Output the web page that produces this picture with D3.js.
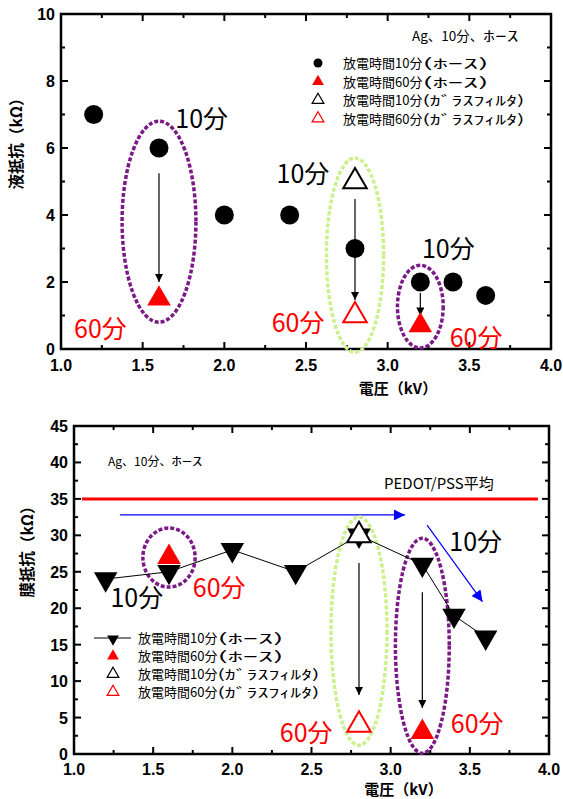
<!DOCTYPE html>
<html>
  <head>
    <meta http-equiv="Content-Type" content="text/html;charset=utf-8"/>
    <script src="https://d3js.org/d3.v7.min.js"></script>
    <style type="text/css">
    body { margin: 0; background: #fff; }
    .tick-label { font-family: "Liberation Sans", Arial, sans-serif; font-weight: bold; font-size: 16px; }
    .jp { font-family: "Noto Sans CJK JP", sans-serif; }
    </style>
  </head>
  <body>
    <script type="text/javascript">
    // ---- data ----
    var voltage = [1.2, 1.6, 2.0, 2.4, 2.8, 3.2, 3.4, 3.6];
    var liquidHose10 = [7, 6, 4, 4, 3, 2, 2, 1.6];
    var liquidHose60 = [[1.6, 1.5], [3.2, 0.7]];
    var liquidGlass10 = [[2.8, 5]];
    var liquidGlass60 = [[2.8, 1.0]];

    var filmHose10 = [24, 25, 28, 25, 30, 26, 19, 16];
    var filmHose60 = [[1.6, 27], [3.2, 3]];
    var filmGlass10 = [[2.8, 30]];
    var filmGlass60 = [[2.8, 4]];
    var pedotAvg = 35;

    var xTicks = [1.0, 1.5, 2.0, 2.5, 3.0, 3.5, 4.0];
    var liquidTicks = [0, 2, 4, 6, 8, 10];
    var filmTicks = [0, 5, 10, 15, 20, 25, 30, 35, 40, 45];

    // legend: main part + parenthetical (half-width kana, stretched like the original font)
    var legendMain = ["放電時間10分", "放電時間60分", "放電時間10分", "放電時間60分"];
    var legendParen = ["(ﾎｰｽ)", "(ﾎｰｽ)", "(ｶﾞﾗｽﾌｨﾙﾀ)", "(ｶﾞﾗｽﾌｨﾙﾀ)"];

    var purple = "#7b1a86", green = "#ccf08c", red = "#ff0000", blue = "#0000ff";

    var svg = d3.select("body").append("svg")
      .attr("width", 563).attr("height", 799);

    var defs = svg.append("defs");
    function marker(id, color, w, l) {
      defs.append("marker").attr("id", id)
        .attr("viewBox", "0 0 10 10").attr("refX", 10).attr("refY", 5)
        .attr("markerUnits", "userSpaceOnUse")
        .attr("markerWidth", l).attr("markerHeight", w)
        .attr("orient", "auto")
        .append("path").attr("d", "M0,0L10,5L0,10Z").attr("fill", color);
    }
    marker("headBlack", "#000", 8, 10);
    marker("headBlue", blue, 11, 16);

    function makeFrame(box, yDomain, yTicks, yMinor, xLabel, yLabel, tickDy, xLabelDy, yLabelX, yLabelY) {
      var x = d3.scaleLinear().domain([1, 4]).range([box.left, box.right]);
      var y = d3.scaleLinear().domain(yDomain).range([box.bottom, box.top]);
      var g = svg.append("g");

      var minorX = d3.range(1, 4.001, 0.25);
      var minorY = d3.range(yDomain[0], yDomain[1] + 0.001, yMinor);
      // inward ticks on all four sides
      minorX.forEach(function(v) {
        var major = xTicks.some(function(t) { return Math.abs(t - v) < 1e-6; });
        var len = major ? 7 : 4;
        g.append("line").attr("x1", x(v)).attr("x2", x(v)).attr("y1", box.bottom).attr("y2", box.bottom - len).attr("stroke", "#000").attr("stroke-width", 2);
        g.append("line").attr("x1", x(v)).attr("x2", x(v)).attr("y1", box.top).attr("y2", box.top + len).attr("stroke", "#000").attr("stroke-width", 2);
      });
      minorY.forEach(function(v) {
        var major = yTicks.some(function(t) { return Math.abs(t - v) < 1e-6; });
        var len = major ? 7 : 4;
        g.append("line").attr("y1", y(v)).attr("y2", y(v)).attr("x1", box.left).attr("x2", box.left + len).attr("stroke", "#000").attr("stroke-width", 2);
        g.append("line").attr("y1", y(v)).attr("y2", y(v)).attr("x1", box.right).attr("x2", box.right - len).attr("stroke", "#000").attr("stroke-width", 2);
      });
      g.append("rect").attr("x", box.left).attr("y", box.top)
        .attr("width", box.right - box.left).attr("height", box.bottom - box.top)
        .attr("fill", "none").attr("stroke", "#000").attr("stroke-width", 2.5);

      g.selectAll(".xl").data(xTicks).enter().append("text")
        .attr("class", "tick-label").attr("x", function(d) { return x(d); })
        .attr("y", box.bottom + tickDy).attr("text-anchor", "middle")
        .text(function(d) { return d3.format(".1f")(d); });
      g.selectAll(".yl").data(yTicks).enter().append("text")
        .attr("class", "tick-label").attr("x", box.left - 6)
        .attr("y", function(d) { return y(d) + 6; }).attr("text-anchor", "end")
        .text(function(d) { return d; });

      g.append("text").attr("class", "jp").attr("font-weight", "bold").attr("font-size", 15)
        .attr("x", (box.left + box.right) / 2 + 92).attr("y", box.bottom + xLabelDy)
        .attr("text-anchor", "middle").text(xLabel);
      g.append("text").attr("class", "jp").attr("font-weight", "bold").attr("font-size", 15.5)
        .attr("transform", "translate(" + yLabelX + "," + yLabelY + ") rotate(-90)")
        .attr("text-anchor", "middle").text(yLabel);
      return { x: x, y: y };
    }

    var tri = d3.symbol().type(d3.symbolTriangle).size(240);
    var triSmall = d3.symbol().type(d3.symbolTriangle).size(60);

    function drawEllipse(s, cx, y0, y1, rx, color) {
      svg.append("ellipse")
        .attr("cx", s.x(cx)).attr("cy", (s.y(y0) + s.y(y1)) / 2)
        .attr("rx", s.x(1 + rx) - s.x(1)).attr("ry", Math.abs(s.y(y0) - s.y(y1)) / 2)
        .attr("fill", "none").attr("stroke", color).attr("stroke-width", 3.5)
        .attr("stroke-dasharray", "4,2");
    }
    function drawArrow(s, x0, y0, x1, y1, color, head, width) {
      svg.append("line").attr("x1", s.x(x0)).attr("y1", s.y(y0))
        .attr("x2", s.x(x1)).attr("y2", s.y(y1))
        .attr("stroke", color).attr("stroke-width", width)
        .attr("marker-end", "url(#" + head + ")");
    }
    function bigLabel(s, xv, yv, txt, color) {
      svg.append("text").attr("class", "jp").attr("font-size", 25)
        .attr("x", s.x(xv)).attr("y", s.y(yv)).attr("fill", color).text(txt);
    }
    function kanaText(x0, y0, size, main, kana, kanaLen) {
      var t = svg.append("text").attr("class", "jp").attr("font-size", size)
        .attr("x", x0).attr("y", y0);
      t.append("tspan").text(main);
      t.append("tspan").attr("textLength", kanaLen).attr("lengthAdjust", "spacingAndGlyphs").text(kana);
    }
    function legend(x0, y0, dy, withLine) {
      var lg = svg.append("g");
      legendMain.forEach(function(name, i) {
        var yy = y0 + i * dy;
        if (i === 0) {
          if (withLine) {
            lg.append("line").attr("x1", x0 - 19).attr("x2", x0 + 18).attr("y1", yy).attr("y2", yy).attr("stroke", "#000");
            lg.append("path").attr("d", triSmall).attr("transform", "translate(" + x0 + "," + (yy + 1) + ") rotate(180)");
          } else {
            lg.append("circle").attr("cx", x0).attr("cy", yy).attr("r", 4.5);
          }
        } else {
          lg.append("path").attr("d", triSmall)
            .attr("transform", "translate(" + x0 + "," + yy + ")")
            .attr("fill", i === 1 ? red : "#fff")
            .attr("stroke", i === 1 ? "none" : (i === 2 ? "#000" : red)).attr("stroke-width", 1.2);
        }
        kanaText(x0 + 25, yy + 5, 13, name, legendParen[i], i < 2 ? 66 : 102);
      });
    }

    // ---- top chart: liquid resistance ----
    var topChart = makeFrame({ left: 61, right: 551, top: 14, bottom: 349 }, [0, 10], liquidTicks, 1,
      "電圧（kV）", "液抵抗（kΩ）", 22, 45, 22, 140);

    drawEllipse(topChart, 1.6, 0.8, 6.8, 0.226, purple);
    drawEllipse(topChart, 2.8, -0.1, 5.7, 0.175, green);
    drawEllipse(topChart, 3.2, 0.03, 2.5, 0.14, purple);

    drawArrow(topChart, 1.6, 5.25, 1.6, 2.0, "#000", "headBlack", 1.2);
    drawArrow(topChart, 2.8, 4.48, 2.8, 1.46, "#000", "headBlack", 1.2);
    drawArrow(topChart, 3.2, 1.67, 3.2, 1.0, "#000", "headBlack", 1.2);

    svg.append("g").selectAll("circle").data(voltage).enter().append("circle")
      .attr("cx", function(d) { return topChart.x(d); })
      .attr("cy", function(d, i) { return topChart.y(liquidHose10[i]); })
      .attr("r", 9.5).attr("fill", "#000");
    svg.append("g").selectAll("path").data(liquidHose60).enter().append("path")
      .attr("d", tri).attr("fill", red)
      .attr("transform", function(d) { return "translate(" + topChart.x(d[0]) + "," + topChart.y(d[1]) + ")"; });
    svg.append("g").selectAll("path").data(liquidGlass10).enter().append("path")
      .attr("d", tri).attr("fill", "#fff").attr("stroke", "#000").attr("stroke-width", 2)
      .attr("transform", function(d) { return "translate(" + topChart.x(d[0]) + "," + topChart.y(d[1]) + ")"; });
    svg.append("g").selectAll("path").data(liquidGlass60).enter().append("path")
      .attr("d", tri).attr("fill", "#fff").attr("stroke", red).attr("stroke-width", 2)
      .attr("transform", function(d) { return "translate(" + topChart.x(d[0]) + "," + topChart.y(d[1]) + ")"; });

    bigLabel(topChart, 1.70, 6.6, "10分", "#000");
    bigLabel(topChart, 1.08, 0.33, "60分", red);
    bigLabel(topChart, 2.32, 4.95, "10分", "#000");
    bigLabel(topChart, 2.29, 0.5, "60分", red);
    bigLabel(topChart, 3.21, 2.73, "10分", "#000");
    bigLabel(topChart, 3.38, 0.05, "60分", red);

    kanaText(412, 41, 13.5, "Ag、10分、", "ﾎｰｽ", 35);
    legend(318, 63, 18.5, false);

    // ---- bottom chart: film resistance ----
    var botChart = makeFrame({ left: 74, right: 549, top: 426, bottom: 754 }, [0, 45], filmTicks, 2.5,
      "電圧（kV）", "膜抵抗（kΩ）", 21, 41, 33, 548);

    svg.append("line").attr("x1", botChart.x(1.05)).attr("x2", botChart.x(3.93))
      .attr("y1", botChart.y(pedotAvg)).attr("y2", botChart.y(pedotAvg))
      .attr("stroke", red).attr("stroke-width", 3);
    svg.append("text").attr("class", "jp").attr("font-size", 15)
      .attr("x", 384).attr("y", botChart.y(pedotAvg) - 10).text("PEDOT/PSS平均");
    kanaText(108, 466, 12, "Ag、10分、", "ﾎｰｽ", 31);

    drawArrow(botChart, 1.29, 32.8, 3.09, 32.8, blue, "headBlue", 1.2);
    drawArrow(botChart, 3.23, 31.4, 3.58, 20.9, blue, "headBlue", 1.2);

    drawEllipse(botChart, 1.6, 22.9, 31, 0.165, purple);
    drawEllipse(botChart, 2.8, 1.2, 32.5, 0.177, green);
    drawEllipse(botChart, 3.2, 0.1, 29.6, 0.17, purple);

    drawArrow(botChart, 2.8, 26.2, 2.8, 8.1, "#000", "headBlack", 1.2);
    drawArrow(botChart, 3.2, 22.2, 3.2, 6.3, "#000", "headBlack", 1.2);

    var lineGen = d3.line()
      .x(function(d) { return botChart.x(d); })
      .y(function(d, i) { return botChart.y(filmHose10[i]); });
    svg.append("path").datum(voltage).attr("d", lineGen)
      .attr("fill", "none").attr("stroke", "#000").attr("stroke-width", 1);
    svg.append("g").selectAll("path").data(voltage).enter().append("path")
      .attr("d", tri).attr("fill", "#000")
      .attr("transform", function(d, i) { return "translate(" + botChart.x(d) + "," + botChart.y(filmHose10[i]) + ") rotate(180)"; });
    svg.append("g").selectAll("path").data(filmHose60).enter().append("path")
      .attr("d", tri).attr("fill", red)
      .attr("transform", function(d) { return "translate(" + botChart.x(d[0]) + "," + botChart.y(d[1]) + ")"; });
    svg.append("g").selectAll("path").data(filmGlass10).enter().append("path")
      .attr("d", tri).attr("fill", "#fff").attr("stroke", "#000").attr("stroke-width", 2)
      .attr("transform", function(d) { return "translate(" + botChart.x(d[0]) + "," + botChart.y(d[1]) + ")"; });
    svg.append("g").selectAll("path").data(filmGlass60).enter().append("path")
      .attr("d", tri).attr("fill", "#fff").attr("stroke", red).attr("stroke-width", 2)
      .attr("transform", function(d) { return "translate(" + botChart.x(d[0]) + "," + botChart.y(d[1]) + ")"; });

    bigLabel(botChart, 1.23, 20.2, "10分", "#000");
    bigLabel(botChart, 1.75, 21.6, "60分", red);
    bigLabel(botChart, 3.37, 27.9, "10分", "#000");
    bigLabel(botChart, 2.3, 1.6, "60分", red);
    bigLabel(botChart, 3.38, 2.9, "60分", red);

    legend(113, 638, 18, true);
    </script>
  </body>
</html>
